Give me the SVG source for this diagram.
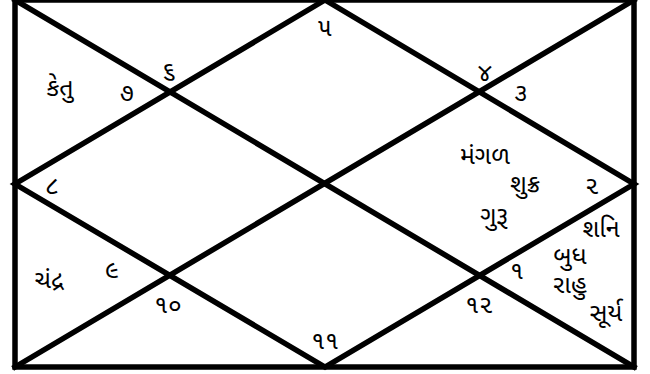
<svg xmlns="http://www.w3.org/2000/svg" width="650" height="374" viewBox="0 0 650 374">
<style>
.ln{stroke:#000;stroke-width:5.5;fill:none;stroke-linecap:square}
.t{font-family:"Noto Sans Gujarati","Lohit Gujarati","Noto Sans","DejaVu Sans",sans-serif;font-size:25px;fill:#000;text-anchor:middle}
</style>
<rect width="650" height="374" fill="#fff"/>
<g id="connectors">
<rect class="ln" x="15" y="0" width="619" height="367"/>
<line class="ln" x1="15" y1="0" x2="634" y2="367"/>
<line class="ln" x1="15" y1="367" x2="634" y2="0"/>
<polygon class="ln" points="325,0 634,184 325,367 15,184"/>
</g>
<g id="house1"><text class="t" x="517" y="279">૧</text><text class="t" x="570" y="264">બુધ</text><text class="t" x="570" y="293">રાહુ</text><text class="t" x="606" y="321">સૂર્ય</text></g>
<g id="house2"><text class="t" x="592" y="194">૨</text><text class="t" x="485" y="164">મંગળ</text><text class="t" x="525" y="192">શુક્ર</text><text class="t" x="494" y="224">ગુરૂ</text><text class="t" x="601" y="237">શનિ</text></g>
<g id="house3"><text class="t" x="521" y="101">૩</text></g>
<g id="house4"><text class="t" x="485" y="81">૪</text></g>
<g id="house5"><text class="t" x="325" y="36">૫</text></g>
<g id="house6"><text class="t" x="169" y="79">૬</text></g>
<g id="house7"><text class="t" x="127" y="101">૭</text><text class="t" x="60" y="96">કેતુ</text></g>
<g id="house8"><text class="t" x="52" y="194">૮</text></g>
<g id="house9"><text class="t" x="112" y="278">૯</text><text class="t" x="49" y="288">ચંદ્ર</text></g>
<g id="house10"><text class="t" x="168" y="313">૧૦</text></g>
<g id="house11"><text class="t" x="325" y="349">૧૧</text></g>
<g id="house12"><text class="t" x="479" y="313">૧૨</text></g>
</svg>
